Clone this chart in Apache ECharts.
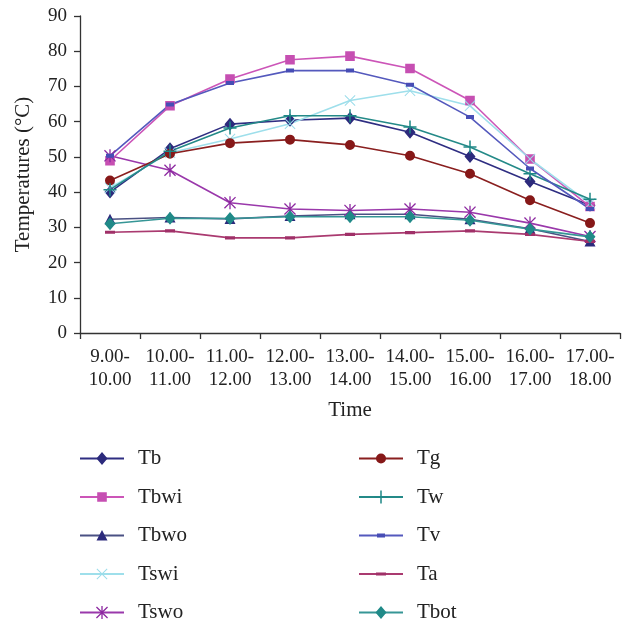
<!DOCTYPE html>
<html>
<head>
<meta charset="utf-8">
<script src="https://cdn.jsdelivr.net/npm/echarts@6/dist/echarts.min.js"></script>
<style>
html,body{margin:0;padding:0;background:#fff;}
#chart{width:628px;height:622px;}
</style>
</head>
<body>
<div id="chart"></div>
<script>
// ---- data ----
const categories = ["9.00-\n10.00","10.00-\n11.00","11.00-\n12.00","12.00-\n13.00","13.00-\n14.00","14.00-\n15.00","15.00-\n16.00","16.00-\n17.00","17.00-\n18.00"];
const yTicks = [0,10,20,30,40,50,60,70,80,90];
const Tb   = [40.0, 52.3, 59.3, 60.4, 61.0, 57.0, 50.1, 43.0, 36.3];
const Tbwi = [48.9, 64.5, 72.1, 77.6, 78.6, 75.1, 66.0, 49.4, 35.9];
const Tbwo = [32.3, 32.8, 32.4, 33.2, 33.7, 33.7, 32.3, 29.6, 26.0];
const Tswi = [41.2, 51.2, 55.1, 59.4, 66.0, 68.8, 64.5, 49.4, 36.8];
const Tswo = [50.3, 46.2, 37.0, 35.2, 34.8, 35.2, 34.3, 31.2, 27.4];
const Tg   = [43.3, 50.9, 53.9, 54.9, 53.4, 50.3, 45.2, 37.7, 31.2];
const Tw   = [40.7, 51.6, 58.2, 61.7, 61.7, 58.5, 52.8, 45.2, 38.0];
const Tv   = [50.3, 64.9, 71.0, 74.5, 74.5, 70.5, 61.3, 46.7, 35.2];
const Ta   = [28.6, 29.0, 27.0, 27.0, 28.0, 28.5, 29.0, 28.0, 26.0];
const Tbot = [31.0, 32.6, 32.5, 33.0, 33.0, 33.0, 32.0, 29.5, 27.3];

const FONT = '"Liberation Serif", "DejaVu Serif", serif';
// all marker paths live in a 14x14 box (tiny corner segments fix the box)
const BOX = 'M0,0L0.01,0.01M13.99,13.99L14,14';
const SYM = {
  diamond: 'path://' + BOX + 'M7,0.5L12.5,7L7,13.5L1.5,7Z',
  square:  'path://' + BOX + 'M2.2,2.2h9.6v9.6h-9.6z',
  tri:     'path://' + BOX + 'M7,1.5L12.5,12L1.5,12Z',
  circle:  'path://' + BOX + 'M2,7A5,5 0 1 0 12,7A5,5 0 1 0 2,7Z',
  cross:   'path://' + BOX + 'M1.5,2.2L2.2,1.5L7,6.3L11.8,1.5L12.5,2.2L7.7,7L12.5,11.8L11.8,12.5L7,7.7L2.2,12.5L1.5,11.8L6.3,7Z',
  star:    'path://' + BOX + 'M1,1.9L1.9,1L7,6.1L12.1,1L13,1.9L7.9,7L13,12.1L12.1,13L7,7.9L1.9,13L1,12.1L6.1,7Z M6.35,0.5L7.65,0.5L7.65,13.5L6.35,13.5Z',
  plus:    'path://' + BOX + 'M6.25,0.5h1.5v5.75h5.75v1.5h-5.75v5.75h-1.5v-5.75h-5.75v-1.5h5.75z',
  dashV:   'path://' + BOX + 'M3,5h8v4h-8z',
  dashA:   'path://' + BOX + 'M2,5.4h10v3.2h-10z'
};

function mk(name, data, lineColor, markColor, symbol) {
  return {
    name: name, type: 'line', data: data,
    symbol: symbol, symbolSize: 14, symbolKeepAspect: true,
    showAllSymbol: true,
    lineStyle: {color: lineColor, width: 1.6},
    itemStyle: {color: markColor, borderWidth: 0},
    emphasis: {disabled: true},
    animation: false, z: 2
  };
}

const series = [
  mk('Tb',   Tb,   '#2f2e82', '#2c2a7c', SYM.diamond),
  mk('Tbwi', Tbwi, '#cc55b8', '#c64fb2', SYM.square),
  mk('Tbwo', Tbwo, '#4a5183', '#2c2a7c', SYM.tri),
  mk('Tswi', Tswi, '#9edfeb', '#9adcea', SYM.cross),
  mk('Tswo', Tswo, '#9a38ab', '#8c28a0', SYM.star),
  mk('Tg',   Tg,   '#8a1f1f', '#861818', SYM.circle),
  mk('Tw',   Tw,   '#248a88', '#1e8886', SYM.plus),
  mk('Tv',   Tv,   '#5459bd', '#474db5', SYM.dashV),
  mk('Ta',   Ta,   '#aa3a70', '#a03068', SYM.dashA),
  mk('Tbot', Tbot, '#369696', '#208a88', SYM.diamond)
];

const legendCommon = {
  orient: 'vertical', padding: 0, height: 200,
  itemWidth: 44, itemHeight: 17.5, itemGap: 17.5,
  symbolKeepAspect: true,
  textStyle: {fontFamily: FONT, fontSize: 21, color: '#222', lineHeight: 17, padding: [0,0,0,9]},
  selectedMode: false
};

const chart = echarts.init(document.getElementById('chart'), null, {renderer: 'canvas'});
chart.setOption({
  backgroundColor: '#fff',
  animation: false,
  grid: {left: 80, right: 8, top: 16, bottom: 289, containLabel: false},
  xAxis: {
    type: 'category', data: categories, boundaryGap: true,
    name: 'Time', nameLocation: 'middle', nameGap: 67,
    nameTextStyle: {fontFamily: FONT, fontSize: 21, color: '#222', lineHeight: 21},
    axisLine: {lineStyle: {color: '#333', width: 1.3}},
    axisTick: {show: true, length: 6, alignWithLabel: false, lineStyle: {color: '#333', width: 1.3}},
    axisLabel: {fontFamily: FONT, fontSize: 19, color: '#222', lineHeight: 23.5, margin: 12, interval: 0}
  },
  yAxis: {
    type: 'value', min: yTicks[0], max: yTicks[yTicks.length-1], interval: 10,
    name: 'Temperatures (°C)', nameLocation: 'middle', nameGap: 46, nameRotate: 90,
    nameTextStyle: {fontFamily: FONT, fontSize: 21, color: '#222'},
    axisLine: {show: true, lineStyle: {color: '#333', width: 1.3}},
    axisTick: {show: true, length: 6, lineStyle: {color: '#333', width: 1.3}},
    splitLine: {show: false},
    axisLabel: {fontFamily: FONT, fontSize: 19, color: '#222', margin: 13}
  },
  legend: [
    Object.assign({left: 79, top: 448, data: ['Tb','Tbwi','Tbwo','Tswi','Tswo']}, legendCommon),
    Object.assign({left: 358, top: 448, data: ['Tg','Tw','Tv','Ta','Tbot']}, legendCommon)
  ],
  series: series
});
</script>
</body>
</html>
